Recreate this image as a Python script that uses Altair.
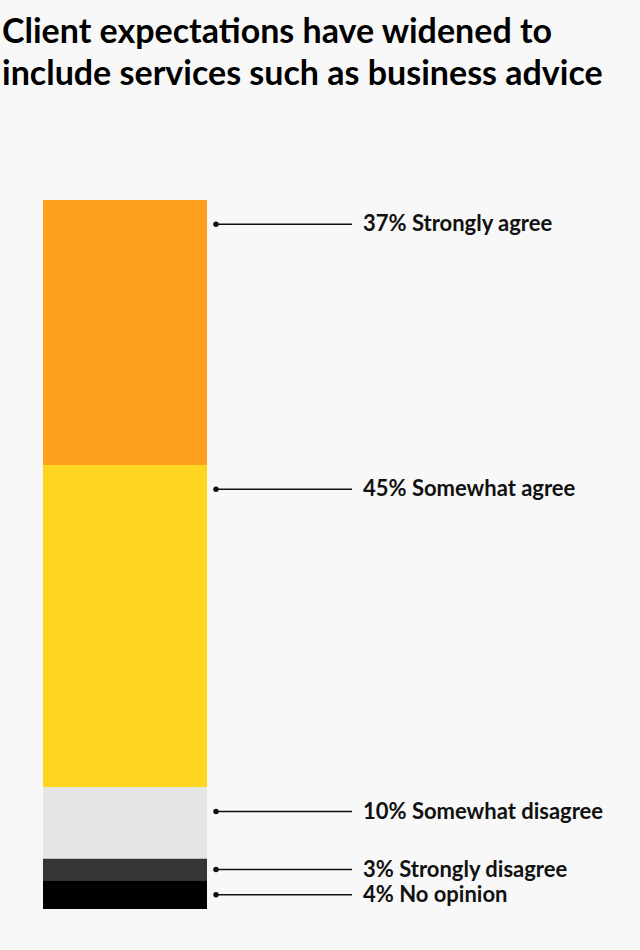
import altair as alt
import pandas as pd

# Survey responses, top of the bar to bottom
categories = ["Strongly agree", "Somewhat agree", "Somewhat disagree", "Strongly disagree", "No opinion"]
shares = [37, 45, 10, 3, 4]
colors = ["#FF9F1F", "#FFD520", "#E5E5E5", "#363636", "#000000"]

df = pd.DataFrame({
    "category": categories,
    "share": shares,
    "rank": list(range(len(categories))),
})

total = sum(shares)

# Stack the segments and hang each label just below the top of its segment
base = alt.Chart(df).transform_window(
    end="sum(share)", sort=[alt.SortField("rank")], frame=[None, 0]
).transform_calculate(
    start="datum.end - datum.share",
    label_pos="datum.start + min(datum.share / 2, 3.4)",
    label="datum.share + '% ' + datum.category",
)

yscale = alt.Scale(domain=[0, total], reverse=True, nice=False, zero=False)

bar = base.mark_rect().encode(
    x=alt.value(43),
    x2=alt.value(207),
    y=alt.Y("start:Q", scale=yscale, axis=None),
    y2="end:Q",
    color=alt.Color("category:N", scale=alt.Scale(domain=categories, range=colors), legend=None),
)

leader = base.mark_rule(color="#111111", strokeWidth=1.5).encode(
    x=alt.value(216),
    x2=alt.value(352),
    y=alt.Y("label_pos:Q", scale=yscale, axis=None),
)

dot = base.mark_point(filled=True, color="#111111", size=30, opacity=1).encode(
    x=alt.value(216),
    y=alt.Y("label_pos:Q", scale=yscale, axis=None),
)

text = base.mark_text(
    align="left", baseline="middle", font="Lato", fontSize=22, fontWeight="bold", color="#111111"
).encode(
    x=alt.value(363),
    y=alt.Y("label_pos:Q", scale=yscale, axis=None),
    text="label:N",
)

chart = alt.layer(bar, leader, dot, text).properties(
    width=640,
    height=709,
    background="#F8F8F8",
    padding={"left": 0, "right": 0, "top": 200, "bottom": 41},
    autosize=alt.AutoSizeParams(type="none"),
    title=alt.TitleParams(
        text=["Client expectations have widened to", "include services such as business advice"],
        anchor="start",
        frame="group",
        font="Lato",
        fontSize=34,
        fontWeight="bold",
        color="#000000",
        lineHeight=42,
        offset=108,
        dx=2,
    ),
).configure_view(stroke=None)

chart.save("out.html", embed_options={"renderer": "svg", "actions": False})
